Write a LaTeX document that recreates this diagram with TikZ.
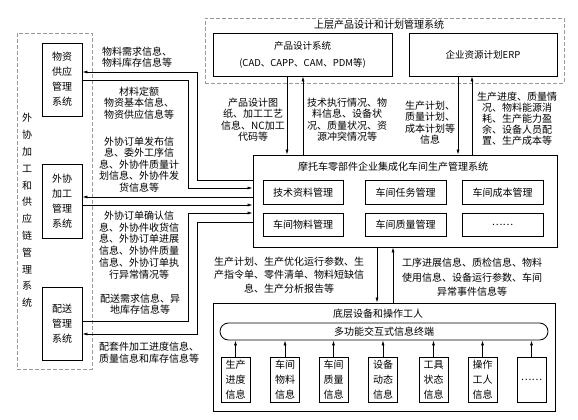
\documentclass[tikz,border=0pt]{standalone}
\usepackage{fontspec}
\setmainfont{Noto Sans CJK SC}
\usetikzlibrary{arrows.meta}
\begin{document}
\begin{tikzpicture}[x=1pt,y=-1pt,
  box/.style={draw, line width=0.8pt, inner sep=0pt, align=center, font=\fontsize{10}{15}\selectfont},
  dbox/.style={draw=gray!80, dash pattern=on 4pt off 2pt, line width=0.8pt, inner sep=0pt},
  lab/.style={align=center, inner sep=0pt, font=\fontsize{10}{11.5}\selectfont},
  blab/.style={align=center, inner sep=0pt, font=\fontsize{10}{13.5}\selectfont},
  arr/.style={-{Latex[length=5pt,width=3pt]}, line width=0.7pt},
  sbox/.style={box, minimum width=29, minimum height=45},
  ibox/.style={box, minimum width=80, minimum height=23.5},
  ]
\useasboundingbox (0,0) rectangle (578,420);

% left dashed group
\node[dbox, minimum width=75, minimum height=336] (lgrp) at (54.5,201) {};
\node[align=center, inner sep=0pt, font=\fontsize{10}{16.8}\selectfont] (lgt) at (27,210.5)
  {外\\协\\加\\工\\和\\供\\应\\链\\管\\理\\系\\统};
\node[box, minimum width=40, minimum height=73] (wz) at (62,79.5) {物资\\供应\\管理\\系统};
\node[box, minimum width=40, minimum height=74] (wx) at (62,201) {外协\\加工\\管理\\系统};
\node[box, minimum width=40, minimum height=73] (ps) at (62,323.5) {配送\\管理\\系统};

% top dashed group
\node[dbox, minimum width=359, minimum height=65] (tgrp) at (384.5,50.5) {};
\node[lab] (tgt) at (379,25) {上层产品设计和计划管理系统};
\node[box, minimum width=179, minimum height=43, font=\fontsize{9.5}{17}\selectfont] (pd) at (302.5,54.5)
  {产品设计系统\\(CAD、CAPP、CAM、PDM等)};
\node[box, minimum width=148, minimum height=43, font=\fontsize{9.5}{12}\selectfont] (erp) at (483,54.5) {企业资源计划ERP};

% main box
\node[box, minimum width=304, minimum height=92] (main) at (405,201) {};
\node[lab] (mt) at (393,167) {摩托车零部件企业集成化车间生产管理系统};
\node[ibox] (m1) at (303,192.5) {技术资料管理};
\node[ibox, minimum width=81] (m2) at (405.5,192.5) {车间任务管理};
\node[ibox, minimum width=81] (m3) at (502.5,192.5) {车间成本管理};
\node[ibox] (m4) at (303,225) {车间物料管理};
\node[ibox, minimum width=81] (m5) at (405.5,225) {车间质量管理};
\node[ibox, minimum width=81] (m6) at (502.5,225) {……};

% bottom box
\node[box, minimum width=342, minimum height=108] (bot) at (384,357) {};
\node[lab] (bt) at (378,314) {底层设备和操作工人};
\node[box, minimum width=328, minimum height=17, rounded corners=8.5pt] (term) at (384,331.5) {多功能交互式信息终端};
\node[sbox] (s1) at (235.5,379.5) {生产\\进度\\信息};
\node[sbox] (s2) at (285,379.5) {车间\\物料\\信息};
\node[sbox] (s3) at (333.5,379.5) {车间\\质量\\信息};
\node[sbox] (s4) at (383,379.5) {设备\\动态\\信息};
\node[sbox] (s5) at (433.5,379.5) {工具\\状态\\信息};
\node[sbox] (s6) at (482.5,379.5) {操作\\工人\\信息};
\node[sbox] (s7) at (531.5,379.5) {……};
\foreach \s in {s1,s2,s3,s4,s5,s6,s7}
  \draw[arr] (\s.north) -- (term.south -| \s.north);

% top connectors
\draw[arr] (pd.south -| 287,0) -- (main.north -| 287,0);
\draw[arr] (main.north -| 303,0) -- (pd.south -| 303,0);
\draw[arr] (erp.south -| 458,0) -- (main.north -| 458,0);
\draw[arr] (main.north -| 472,0) -- (erp.south -| 472,0);
\node[lab] (l1) at (253,119.5) {产品设计图\\纸、加工工艺\\信息、NC加工\\代码等};
\node[lab] (l2) at (347,119.5) {技术执行情况、物\\料信息、设备状\\况、质量状况、资\\源冲突情况等};
\node[lab] (l3) at (430,122.5) {生产计划、\\质量计划、\\成本计划等\\信息};
\node[lab, font=\fontsize{10}{11}\selectfont] (l4) at (517,119) {生产进度、质量情\\况、物料能源消\\耗、生产能力盈\\余、设备人员配\\置、生产成本等};

% bottom connectors
\draw[arr] (main.south -| 377,0) -- (bot.north -| 377,0);
\draw[arr] (bot.north -| 393,0) -- (main.south -| 393,0);
\node[blab] (b1) at (289,275) {生产计划、生产优化运行参数、生\\产指令单、零件清单、物料短缺信\\息、生产分析报告等};
\node[blab, font=\fontsize{10}{14.5}\selectfont] (b2) at (472,277.5) {工序进展信息、质检信息、物料\\使用信息、设备运行参数、车间\\异常事件信息等};

% left connectors
\draw[arr] (main.west |- 0,180) -| (197,72) -- (wz.east |- 0,72);
\draw[arr] (wz.east |- 0,80) -| (188,188) -- (main.west |- 0,188);
\draw[arr] (main.west |- 0,197) -- (wx.east |- 0,197);
\draw[arr] (wx.east |- 0,205) -- (main.west |- 0,205);
\draw[arr] (ps.east |- 0,321) -| (188,213) -- (main.west |- 0,213);
\draw[arr] (main.west |- 0,222) -| (197,334) -- (ps.east |- 0,334);
\node[lab] (r1) at (137,57) {物料需求信息、\\物料库存信息等};
\node[lab] (r2) at (139,103) {材料定额\\物资基本信息、\\物资供应信息等};
\node[lab] (r3) at (139,164.5) {外协订单发布信\\息、委外工序信\\息、外协件质量计\\划信息、外协件发\\货信息等};
\node[lab, font=\fontsize{10}{11.8}\selectfont] (r4) at (139,245) {外协订单确认信\\息、外协件收货信\\息、外协订单进展\\信息、外协件质量\\信息、外协订单执\\行异常情况等};
\node[lab] (r5) at (140,304) {配送需求信息、异\\地库存信息等};
\node[lab] (r6) at (149,352.5) {配套件加工进度信息、\\质量信息和库存信息等};
\end{tikzpicture}
\end{document}
